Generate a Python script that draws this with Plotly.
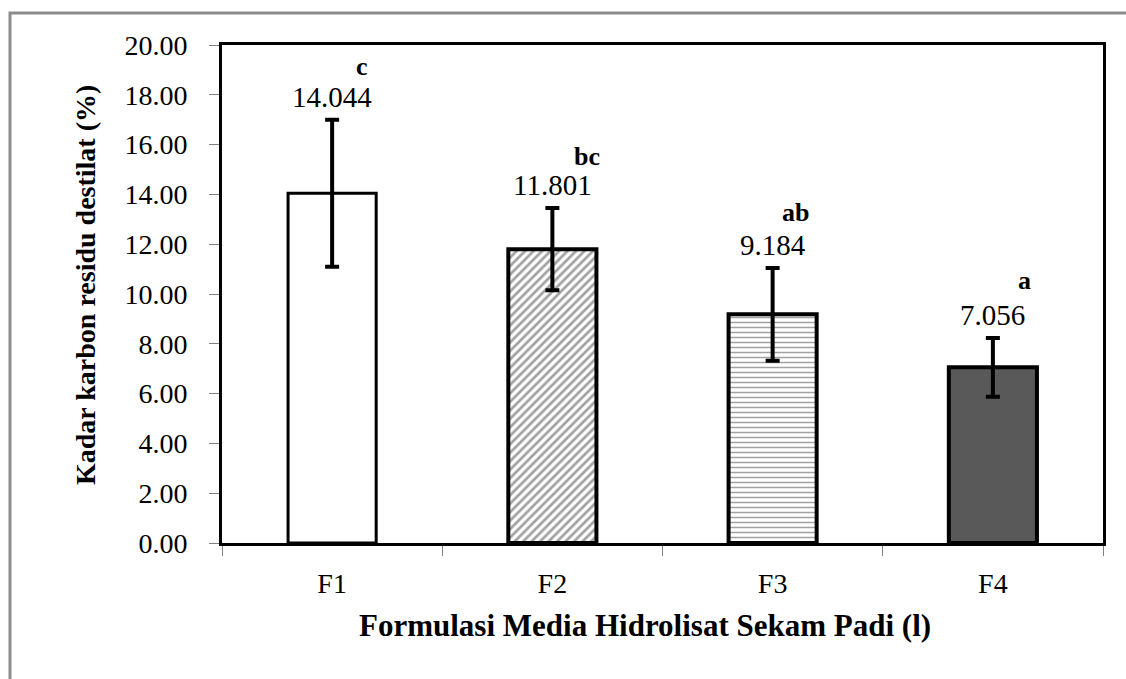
import plotly.graph_objects as go

# Data
categories = ["F1", "F2", "F3", "F4"]
kadar_karbon = [14.044, 11.801, 9.184, 7.056]
std_dev = [2.95, 1.65, 1.86, 1.18]
notasi = ["c", "bc", "ab", "a"]
y_ticks = [0, 2, 4, 6, 8, 10, 12, 14, 16, 18, 20]

# Canvas / plot area geometry (pixels)
W, H = 1126, 679
PL, PR, PT, PB = 222, 1103, 45, 543

def px_to_paper_x(px):
    return (px - PL) / (PR - PL)

def px_to_paper_y(py):
    return (PB - py) / (PB - PT)

SERIF = "Liberation Serif, Times New Roman, Times, DejaVu Serif, serif"

fig = go.Figure()
fig.add_trace(go.Bar(
    x=categories,
    y=kadar_karbon,
    width=0.40,
    marker=dict(
        color=["white", "white", "white", "#595959"],
        line=dict(color="black", width=[3, 4, 4, 4]),
        pattern=dict(
            shape=["", "/", "-", ""],
            fgcolor=["black", "#1a1a1a", "#444444", "black"],
            size=[8, 6, 5, 8],
            solidity=[0.3, 0.45, 0.3, 0.3],
        ),
    ),
    error_y=dict(type="data", array=std_dev, visible=True,
                 color="black", thickness=4, width=7),
    hoverinfo="skip",
    showlegend=False,
))

annotations = []
# value labels above the error bars, significance letters above-right
letter_dx = [22, 20, 7, 23]
letter_dy = [30, 29, 33, 34]
for cat, v, e, n, dx, dy in zip(categories, kadar_karbon, std_dev, notasi, letter_dx, letter_dy):
    annotations.append(dict(
        x=cat, y=v + e, xref="x", yref="y", text=f"{v:.3f}",
        showarrow=False, yshift=23, xanchor="center", yanchor="middle",
        font=dict(family=SERIF, size=29, color="black"),
    ))
    annotations.append(dict(
        x=cat, y=v + e, xref="x", yref="y", text=f"<b>{n}</b>",
        showarrow=False, yshift=23 + dy, xshift=dx, xanchor="left", yanchor="middle",
        font=dict(family=SERIF, size=26, color="black"),
    ))

# axis titles
annotations.append(dict(
    x=px_to_paper_x(85), y=px_to_paper_y(285), xref="paper", yref="paper",
    text="<b>Kadar karbon residu destilat (%)</b>", textangle=-90,
    showarrow=False, xanchor="center", yanchor="middle",
    font=dict(family=SERIF, size=28, color="black"),
))
annotations.append(dict(
    x=px_to_paper_x(645), y=px_to_paper_y(625), xref="paper", yref="paper",
    text="<b>Formulasi Media Hidrolisat Sekam Padi (l)</b>",
    showarrow=False, xanchor="center", yanchor="middle",
    font=dict(family=SERIF, size=31, color="black"),
))

# outer chart-area border (only left and top edges fall inside the canvas)
shapes = [dict(
    type="rect", xref="paper", yref="paper",
    x0=px_to_paper_x(10), x1=px_to_paper_x(W + 20),
    y0=px_to_paper_y(H + 20), y1=px_to_paper_y(13),
    line=dict(color="#8c8c8c", width=3), fillcolor="rgba(0,0,0,0)", layer="below",
)]

fig.update_layout(
    width=W, height=H,
    margin=dict(l=PL, r=W - PR, t=PT, b=H - PB, pad=0),
    paper_bgcolor="white", plot_bgcolor="white",
    annotations=annotations, shapes=shapes,
    bargap=0.6,
)
fig.update_yaxes(
    range=[0, 20], tickvals=y_ticks, tickformat=".2f",
    showgrid=False, zeroline=False,
    showline=True, linecolor="black", linewidth=3, mirror=True,
    ticks="outside", ticklen=10, tickwidth=1, tickcolor="#808080",
    ticklabelstandoff=16,
    tickfont=dict(family=SERIF, size=28, color="black"),
)
fig.update_xaxes(
    showgrid=False, zeroline=False,
    showline=True, linecolor="black", linewidth=3, mirror=True,
    ticks="outside", tickson="boundaries", ticklen=10, tickwidth=1, tickcolor="#808080",
    ticklabelstandoff=13,
    tickfont=dict(family=SERIF, size=28, color="black"),
)

fig.write_html("out.html")
